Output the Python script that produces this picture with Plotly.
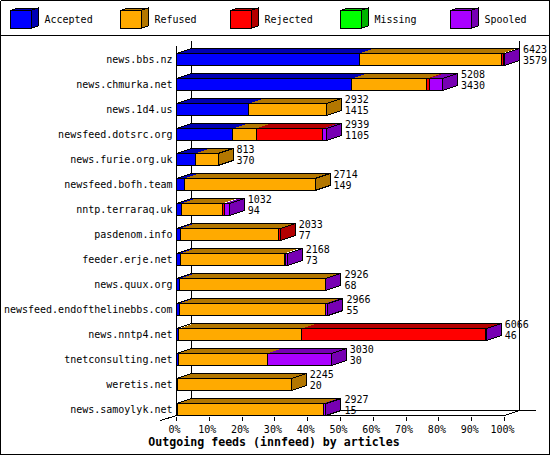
import plotly.graph_objects as go

hosts = ["news.bbs.nz", "news.chmurka.net", "news.1d4.us", "newsfeed.dotsrc.org",
         "news.furie.org.uk", "newsfeed.bofh.team", "nntp.terraraq.uk", "pasdenom.info",
         "feeder.erje.net", "news.quux.org", "newsfeed.endofthelinebbs.com", "news.nntp4.net",
         "tnetconsulting.net", "weretis.net", "news.samoylyk.net"]
totals = [6423, 5208, 2932, 2939, 813, 2714, 1032, 2033, 2168, 2926, 2966, 6066, 3030, 2245, 2927]
accepted = [3579, 3430, 1415, 1105, 370, 149, 94, 77, 73, 68, 55, 46, 30, 20, 15]
refused = [2793, 1472, 1517, 456, 443, 2565, 801, 1923, 2037, 2848, 2858, 2405, 1747, 2225, 2860]
rejected = [30, 51, 0, 1301, 0, 0, 39, 33, 27, 0, 0, 3594, 0, 0, 0]
missing = [0] * 15
spooled = [21, 255, 0, 77, 0, 0, 98, 0, 31, 10, 53, 21, 1253, 0, 52]

series_names = ["Accepted", "Refused", "Rejected", "Missing", "Spooled"]
series_values = [accepted, refused, rejected, missing, spooled]
face = ["#0000FF", "#FFAA00", "#FF0000", "#00FF00", "#AA00FF"]
dark = ["#0000B3", "#B37700", "#B30000", "#00B300", "#7700B3"]
pct_ticks = list(range(0, 101, 10))

FONT = "DejaVu Sans Mono"
PX_PCT = 3.28
X0 = 176.5
ROW0 = 59.5
PITCH = 25.0
DX = 15 / PX_PCT
DY = 5 / PITCH
HALF = 6 / PITCH


def px(x, y):
    return (x - X0) / PX_PCT, (y - ROW0) / PITCH


fig = go.Figure()


def poly(xs, ys, fill, line="black", name=None):
    fig.add_trace(go.Scatter(
        x=list(xs) + [xs[0]], y=list(ys) + [ys[0]], mode="lines", fill="toself",
        fillcolor=fill, line=dict(color=line or fill, width=1 if line else 0),
        hoverinfo="skip", showlegend=False, name=name))


def pline(points):
    xs, ys = zip(*[px(*p) for p in points])
    fig.add_trace(go.Scatter(x=xs, y=ys, mode="lines", line=dict(color="black", width=1),
                             hoverinfo="skip", showlegend=False))


# frame and legend separator
pline([(0.5, 0.5), (549.5, 0.5), (549.5, 454.5), (0.5, 454.5), (0.5, 0.5)])
pline([(0.5, 35.5), (549.5, 35.5)])

# back wall and floor
pline([(191.5, 40.5), (191.5, 410.5), (535.5, 410.5)])
pline([(519.5, 40.5), (519.5, 410.5), (504.5, 415.5)])
pline([(176.5, 45.5), (176.5, 415.5), (504.5, 415.5)])
pline([(176.5, 415.5), (160.5, 420.5)])

# bars
scale = 100 / max(totals)
for r, host in enumerate(hosts):
    segs = []
    start = 0
    for s, vals in enumerate(series_values):
        if vals[r] > 0:
            segs.append((s, start * scale, (start + vals[r]) * scale))
            start += vals[r]
    top, bot = r - HALF, r + HALF
    end = segs[-1][2]
    for s, a, b in segs:
        poly([a, a + DX, b + DX, b], [top, top - DY, top - DY, top], dark[s], line=None)
    poly([0, DX, end + DX, end], [top, top - DY, top - DY, top], "rgba(0,0,0,0)")
    poly([end, end + DX, end + DX, end], [top, top - DY, bot - DY, bot], dark[segs[-1][0]])
    for s, a, b in segs:
        poly([a, b, b, a], [top, top, bot, bot], face[s], name=series_names[s])

# value labels
label_x = [t * scale + 18.5 / PX_PCT for t in totals]
fig.add_trace(go.Scatter(x=label_x, y=[r - 0.36 for r in range(15)], text=[str(v) for v in totals],
                         mode="text", textposition="middle right",
                         textfont=dict(family=FONT, size=10, color="black"),
                         hoverinfo="skip", showlegend=False))
fig.add_trace(go.Scatter(x=label_x, y=[r + 0.08 for r in range(15)], text=[str(v) for v in accepted],
                         mode="text", textposition="middle right",
                         textfont=dict(family=FONT, size=10, color="black"),
                         hoverinfo="skip", showlegend=False))

# legend keys
for i, name in enumerate(series_names):
    lx = 10.5 + 110 * i
    l, r_, t, b, d, h = lx, lx + 20.5, 10.5, 28.5, 7, 2.5
    xs, ys = zip(*[px(*p) for p in [(l, t), (l + d, t - h), (r_ + d, t - h), (r_, t)]])
    poly(xs, ys, dark[i])
    xs, ys = zip(*[px(*p) for p in [(r_, t), (r_ + d, t - h), (r_ + d, b - h), (r_, b)]])
    poly(xs, ys, dark[i])
    xs, ys = zip(*[px(*p) for p in [(l, t), (r_, t), (r_, b), (l, b)]])
    poly(xs, ys, face[i], name=name)
    tx, ty = px(lx + 34, 20)
    fig.add_trace(go.Scatter(x=[tx], y=[ty], text=[name], mode="text", textposition="middle right",
                             textfont=dict(family=FONT, size=10, color="black"),
                             hoverinfo="skip", showlegend=False))

fig.update_layout(
    width=550, height=455, autosize=False, showlegend=False,
    margin=dict(l=0, r=0, t=0, b=0, pad=0),
    paper_bgcolor="white", plot_bgcolor="white",
    font=dict(family=FONT, size=10, color="black"),
    title=dict(text="<b>Outgoing feeds (innfeed) by articles</b>",
               x=274 / 550, xanchor="center", y=1 - 442 / 455, yanchor="middle",
               font=dict(family=FONT, size=11.6, color="black")),
    xaxis=dict(range=[px(0, 0)[0], px(550, 0)[0]], domain=[0, 1], anchor="free",
               position=1 - 415.5 / 455, automargin=False,
               tickmode="array", tickvals=pct_ticks, ticklabelshift=-2,
               ticktext=[f"{v}%" for v in pct_ticks], ticks="outside", ticklen=4, tickwidth=1,
               tickcolor="black", showgrid=False, zeroline=False, showline=False,
               tickfont=dict(family=FONT, size=10, color="black")),
    yaxis=dict(range=[px(0, 455)[1], px(0, 0)[1]], domain=[0, 1], anchor="free",
               position=176.5 / 550, automargin=False,
               tickmode="array", tickvals=list(range(15)),
               ticktext=hosts, ticks="outside", ticklen=2, tickcolor="rgba(0,0,0,0)",
               showgrid=False, zeroline=False, showline=False,
               tickfont=dict(family=FONT, size=10, color="black")),
)

css = ("document.body.style.margin='0';document.body.style.overflow='hidden';"
       "var s=document.createElement('style');"
       "s.textContent='svg path{shape-rendering:crispEdges}';"
       "document.head.appendChild(s);")
fig.write_html("out.html", config={"displayModeBar": False}, post_script=css)
